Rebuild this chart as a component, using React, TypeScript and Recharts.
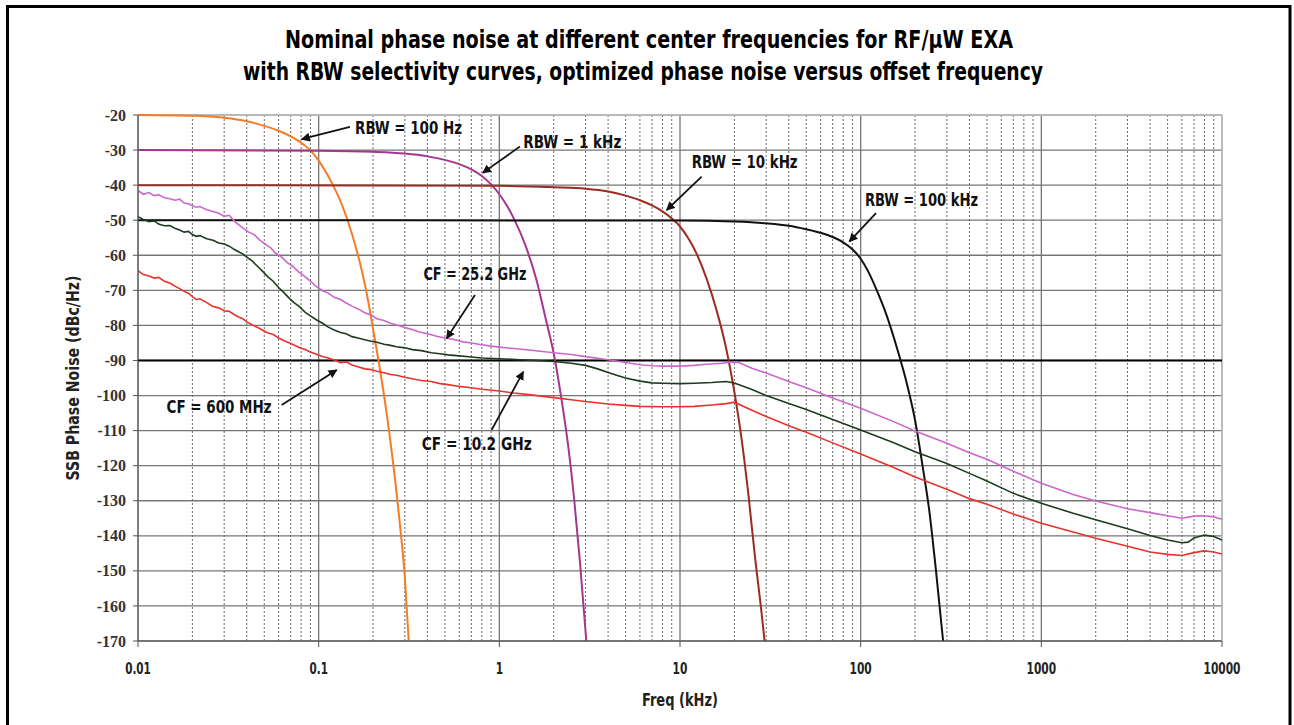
import { CartesianGrid, Line, LineChart, ReferenceLine, XAxis, YAxis } from "recharts";

const W = 1294;
const H = 725;
const PLOT = { left: 138, right: 1222, top: 115, bottom: 641 };
const YAXIS_W = 60;
const XAXIS_H = 30;

const NARROW = "'Liberation Sans Narrow', 'Arial Narrow', 'DejaVu Sans Condensed', sans-serif";
const SERIF = "'Liberation Serif', 'DejaVu Serif', serif";

const X_TICKS = [0.01, 0.1, 1, 10, 100, 1000, 10000];
const Y_TICKS = [-20, -30, -40, -50, -60, -70, -80, -90, -100, -110, -120, -130, -140, -150, -160, -170];
const MINOR_MULTS = [2, 3, 4, 5, 6, 7, 8, 9];

// RBW selectivity curves [freq kHz, dBc/Hz]
const rbw100Hz: [number, number][] = [
  [0.01, -20], [0.02, -20.2], [0.03, -20.8], [0.04, -21.8], [0.05, -23.1], [0.06, -24.5],
  [0.07, -26.1], [0.08, -27.9], [0.09, -30.1], [0.1, -33.0], [0.11, -36.4], [0.12, -40.0],
  [0.13, -43.8], [0.14, -48.0], [0.15, -52.6], [0.16, -57.4], [0.17, -62.6], [0.18, -68.2],
  [0.19, -74.4], [0.2, -81], [0.22, -93.5], [0.24, -106.5], [0.26, -120.5], [0.28, -135.5],
  [0.3, -152], [0.315, -170],
];
const rbw1kHz: [number, number][] = [
  [0.01, -30], [0.1, -30.2], [0.2, -30.5], [0.3, -31], [0.4, -31.8], [0.5, -32.8],
  [0.6, -34], [0.7, -35.5], [0.8, -37.4], [0.9, -39.8], [1, -42.6], [1.1, -45.8], [1.2, -49.4],
  [1.4, -57.4], [1.6, -66.8], [1.8, -77.8], [2, -88], [2.2, -100.5], [2.4, -114],
  [2.6, -130], [2.8, -148], [3.03, -170],
];
const rbw10kHz: [number, number][] = [
  [0.01, -40], [1, -40.2], [2, -40.6], [3, -41], [4, -41.8], [5, -43], [6, -44.3],
  [7, -45.8], [8, -47.5], [9, -49.5], [10, -51.8], [11, -54.8], [12, -58.2], [14, -66.5],
  [16, -76], [18, -86.5], [20, -99], [22, -113], [24, -129], [26, -146], [28, -160], [29.4, -170],
];
const rbw100kHz: [number, number][] = [
  [0.01, -50], [10, -50.1], [20, -50.4], [30, -50.9], [40, -51.6], [50, -52.6], [60, -53.6],
  [70, -54.8], [80, -56.3], [90, -58.3], [100, -61], [110, -64.6], [120, -68.8], [140, -77.5],
  [160, -87], [180, -96.5], [200, -107], [220, -120], [240, -133], [260, -149], [286, -170],
];

// measured phase noise traces
const cf25GHz: [number, number][] = [
  [0.01, -41.5], [0.0107, -42.6], [0.0115, -42.1], [0.0123, -43.0], [0.013, -42.7], [0.014, -43.6],
  [0.015, -43.9], [0.016, -44.3], [0.017, -44.0], [0.018, -45.1], [0.019, -45.3], [0.02, -45.9],
  [0.021, -46.3], [0.022, -46.1], [0.024, -47.0], [0.026, -47.5], [0.028, -48.0], [0.03, -48.9],
  [0.032, -48.6], [0.033, -49.4], [0.035, -50.8], [0.038, -52.2], [0.041, -53.4], [0.044, -54.1],
  [0.047, -55.6], [0.05, -56.6], [0.054, -57.8], [0.058, -59.5], [0.062, -60.4], [0.067, -62.1],
  [0.072, -63.2], [0.078, -64.9], [0.084, -66.1], [0.09, -67.4], [0.097, -68.9], [0.105, -70.1],
  [0.113, -70.8], [0.122, -72.0], [0.132, -72.6], [0.142, -73.6], [0.153, -74.5], [0.165, -75.3],
  [0.18, -76.4], [0.195, -77.0], [0.21, -78.1], [0.23, -78.6], [0.25, -79.4], [0.27, -79.9],
  [0.3, -80.6], [0.33, -81.2], [0.36, -81.9], [0.4, -82.4], [0.45, -83.1], [0.5, -83.6],
  [0.56, -84.0], [0.63, -84.7], [0.7, -85.0], [0.8, -85.5], [0.9, -85.9], [1, -86.2],
  [1.2, -86.6], [1.5, -87.1], [2, -87.8], [2.5, -88.3], [3, -88.9], [4, -89.8], [5, -90.6],
  [6, -91.2], [7, -91.5], [8, -91.6], [10, -91.6], [12, -91.4], [14, -91.1], [17, -90.8],
  [20, -90.4], [21, -90.5], [25, -92.2], [30, -93.6], [40, -96.0], [50, -97.8], [70, -100.7],
  [100, -103.6], [150, -107.3], [200, -110.1], [300, -113.6], [400, -116.3], [500, -118.2],
  [700, -121.6], [1000, -125.0], [1500, -128.2], [2000, -130.1], [3000, -132.3], [4000, -133.4],
  [5000, -134.3], [6000, -135.0], [7000, -134.4], [8000, -134.3], [9000, -134.6], [10000, -135.3],
];
const cf10GHz: [number, number][] = [
  [0.01, -49.0], [0.0107, -49.8], [0.0115, -50.4], [0.0123, -50.2], [0.013, -51.1], [0.014, -51.6],
  [0.015, -51.5], [0.016, -52.3], [0.017, -52.8], [0.018, -53.4], [0.019, -53.2], [0.02, -54.1],
  [0.021, -54.6], [0.022, -54.4], [0.024, -55.3], [0.026, -55.7], [0.028, -56.5], [0.03, -56.8],
  [0.032, -57.4], [0.034, -58.3], [0.036, -59.0], [0.038, -59.6], [0.04, -60.5], [0.043, -61.7],
  [0.046, -63.2], [0.049, -64.6], [0.052, -66.0], [0.056, -67.4], [0.06, -69.2], [0.064, -70.6],
  [0.068, -72.0], [0.073, -73.5], [0.078, -74.6], [0.084, -76.2], [0.09, -77.3], [0.097, -78.4],
  [0.105, -79.4], [0.113, -80.5], [0.122, -81.3], [0.132, -82.0], [0.142, -82.4], [0.153, -83.2],
  [0.165, -83.6], [0.18, -84.1], [0.195, -84.5], [0.21, -84.8], [0.23, -85.4], [0.25, -85.7],
  [0.27, -86.1], [0.3, -86.4], [0.33, -86.9], [0.37, -87.2], [0.42, -87.8], [0.47, -88.1],
  [0.52, -88.4], [0.6, -88.7], [0.7, -89.0], [0.8, -89.3], [1, -89.5], [1.3, -89.8], [1.6, -90.0],
  [2, -90.3], [2.5, -90.8], [3, -91.4], [3.5, -92.4], [4, -93.4], [4.5, -94.3], [5, -95.0],
  [6, -95.9], [7, -96.4], [8, -96.5], [10, -96.6], [12, -96.5], [15, -96.3], [18, -96.0],
  [20, -96.4], [25, -98.3], [30, -100.0], [40, -102.3], [50, -104.0], [70, -106.8], [100, -109.8],
  [150, -113.3], [200, -116.0], [300, -119.4], [400, -122.2], [500, -124.4], [700, -127.9],
  [1000, -130.7], [1500, -133.6], [2000, -135.4], [3000, -138.0], [4000, -139.9], [5000, -141.2],
  [6000, -142.0], [6500, -141.8], [7000, -140.6], [8000, -139.8], [9000, -140.2], [10000, -141.2],
];
const cf600MHz: [number, number][] = [
  [0.01, -64.4], [0.0107, -65.5], [0.0115, -65.9], [0.0123, -66.5], [0.013, -66.3], [0.014, -67.4],
  [0.015, -67.9], [0.016, -68.8], [0.017, -69.5], [0.018, -70.3], [0.019, -70.8], [0.02, -71.8],
  [0.021, -72.6], [0.022, -72.4], [0.024, -73.5], [0.026, -74.6], [0.028, -75.0], [0.03, -75.8],
  [0.032, -76.0], [0.034, -76.9], [0.036, -77.6], [0.038, -78.1], [0.04, -79.0], [0.043, -79.9],
  [0.046, -80.6], [0.049, -81.4], [0.052, -82.1], [0.056, -82.6], [0.06, -83.6], [0.064, -84.3],
  [0.068, -84.9], [0.073, -85.6], [0.078, -86.3], [0.084, -86.9], [0.09, -87.6], [0.097, -88.2],
  [0.105, -88.9], [0.113, -89.3], [0.122, -89.9], [0.132, -90.6], [0.142, -90.4], [0.153, -91.3],
  [0.165, -91.8], [0.18, -92.4], [0.195, -92.6], [0.21, -93.1], [0.23, -93.5], [0.25, -94.0],
  [0.27, -94.2], [0.3, -94.8], [0.33, -95.2], [0.37, -95.7], [0.42, -96.0], [0.47, -96.6],
  [0.52, -96.9], [0.6, -97.4], [0.7, -97.8], [0.8, -98.2], [1, -98.7], [1.2, -99.3], [1.5, -99.8],
  [2, -100.6], [2.5, -101.2], [3, -101.7], [4, -102.4], [5, -102.8], [6, -103.1], [8, -103.2],
  [10, -103.2], [12, -103.1], [15, -102.7], [18, -102.3], [20, -101.9], [25, -104.2], [30, -106.0],
  [40, -108.6], [50, -110.5], [70, -113.5], [100, -116.7], [150, -120.4], [200, -123.2],
  [300, -126.7], [400, -129.4], [500, -131.0], [700, -133.8], [1000, -136.4], [1500, -138.9],
  [2000, -140.7], [3000, -143.0], [4000, -144.6], [5000, -145.3], [6000, -145.6], [7000, -144.8],
  [8000, -144.3], [9000, -144.6], [10000, -145.2],
];

// annotation labels: text anchor (f, dB), arrow from -> to (f, dB)
const LABELS = [
  { text: "RBW = 100 Hz", at: [0.159, -23.6], from: [0.149, -23.4], to: [0.0805, -26.9] },
  { text: "RBW = 1 kHz", at: [1.357, -27.6], from: [1.3, -29.0], to: [0.809, -36.5] },
  { text: "RBW = 10 kHz", at: [11.6, -33.3], from: [13.18, -37.6], to: [8.43, -47.1] },
  { text: "RBW = 100 kHz", at: [105.7, -44.2], from: [121.6, -48.0], to: [86.5, -56.1] },
  { text: "CF = 25.2 GHz", at: [0.38, -65.1], from: [0.733, -71.3], to: [0.511, -83.7] },
  { text: "CF = 10.2 GHz", at: [0.372, -113.6], from: [0.907, -109.8], to: [1.357, -93.2] },
  { text: "CF = 600 MHz", at: [0.0144, -103.0], from: [0.0624, -102.7], to: [0.1259, -92.7] },
];
// rendered text widths in px (condensed face)
const LABEL_W: Record<string, number> = {
  "RBW = 100 Hz": 107,
  "RBW = 1 kHz": 98,
  "RBW = 10 kHz": 106,
  "RBW = 100 kHz": 113,
  "CF = 25.2 GHz": 103,
  "CF = 10.2 GHz": 110,
  "CF = 600 MHz": 105,
};

const toPts = (arr: [number, number][]) => arr.map(([f, v]) => ({ f, v }));

const SERIES = [
  { key: "rbw100", data: rbw100Hz, color: "#f47c26", width: 2, type: "monotone" },
  { key: "rbw1k", data: rbw1kHz, color: "#a5368e", width: 2, type: "monotone" },
  { key: "rbw10k", data: rbw10kHz, color: "#9c2b22", width: 2, type: "monotone" },
  { key: "rbw100k", data: rbw100kHz, color: "#111111", width: 2, type: "monotone" },
  { key: "cf25", data: cf25GHz, color: "#cc66cc", width: 1.6, type: "linear" },
  { key: "cf10", data: cf10GHz, color: "#1d3b1d", width: 1.6, type: "linear" },
  { key: "cf600", data: cf600MHz, color: "#e8322b", width: 1.6, type: "linear" },
] as const;

const fx = (f: number) =>
  PLOT.left + ((PLOT.right - PLOT.left) * (Math.log10(f) + 2)) / 6;
const fy = (v: number) => PLOT.top + ((PLOT.bottom - PLOT.top) * (-20 - v)) / 150;

function XTick({ x, y, payload }: any) {
  const s = String(payload.value);
  const len = s.replace(".", "").length * 7.4 + (s.includes(".") ? 3.5 : 0);
  return (
    <text
      x={x}
      y={y + 15}
      textAnchor="middle"
      fontFamily={NARROW}
      fontWeight={700}
      fontSize={15}
      fill="#222"
      textLength={len}
      lengthAdjust="spacingAndGlyphs"
    >
      {s}
    </text>
  );
}

function YTick({ x, y, payload }: any) {
  return (
    <text x={x} y={y} dy="0.35em" textAnchor="end" fontFamily={SERIF} fontWeight={700} fontSize={16} fill="#333">
      {payload.value}
    </text>
  );
}

export default function App() {
  const minor = X_TICKS.slice(0, -1).flatMap((d) => MINOR_MULTS.map((m) => d * m));

  return (
    <div style={{ position: "absolute", left: 0, top: 0, width: W, height: H, background: "#fff" }}>
      <LineChart
        width={W}
        height={H}
        margin={{ top: PLOT.top, right: W - PLOT.right, bottom: H - PLOT.bottom - XAXIS_H, left: PLOT.left - YAXIS_W }}
      >
        <CartesianGrid stroke="#767676" strokeWidth={1.3} />
        {minor.map((m) => (
          <ReferenceLine key={m} x={m} stroke="#6a6a6a" strokeWidth={1} strokeDasharray="2 2" />
        ))}
        <ReferenceLine y={-20} stroke="#c4c4c4" strokeWidth={1.5} />
        <ReferenceLine x={10000} stroke="#c4c4c4" strokeWidth={1.5} />
        <ReferenceLine y={-90} stroke="#000" strokeWidth={2} />
        <XAxis
          dataKey="f"
          type="number"
          scale="log"
          domain={[0.01, 10000]}
          ticks={X_TICKS}
          allowDataOverflow
          height={XAXIS_H}
          tickSize={6}
          tickMargin={12}
          stroke="#555"
          tick={<XTick />}
        />
        <YAxis
          type="number"
          domain={[-170, -20]}
          ticks={Y_TICKS}
          width={YAXIS_W}
          tickSize={5}
          tickMargin={7}
          stroke="#555"
          tick={<YTick />}
        />
        {SERIES.map((s) => (
          <Line
            key={s.key}
            data={toPts(s.data as [number, number][])}
            dataKey="v"
            type={s.type}
            stroke={s.color}
            strokeWidth={s.width}
            dot={false}
            activeDot={false}
            isAnimationActive={false}
          />
        ))}
      </LineChart>

      <svg width={W} height={H} style={{ position: "absolute", left: 0, top: 0, pointerEvents: "none" }}>
        <defs>
          <marker id="arr" viewBox="0 0 10 10" refX="9" refY="5" markerWidth="5" markerHeight="5" orient="auto">
            <path d="M0,0 L10,5 L0,10 z" fill="#111" />
          </marker>
        </defs>
        <path d={`M7.5 ${H + 5} V6.5 H1290 V${H + 5}`} fill="none" stroke="#000" strokeWidth={3} />
        <text
          x={649}
          y={48}
          textAnchor="middle"
          fontFamily={NARROW}
          fontWeight={700}
          fontSize={25}
          fill="#000"
          textLength={728}
          lengthAdjust="spacingAndGlyphs"
        >
          Nominal phase noise at different center frequencies for RF/µW EXA
        </text>
        <text
          x={643}
          y={80}
          textAnchor="middle"
          fontFamily={NARROW}
          fontWeight={700}
          fontSize={25}
          fill="#000"
          textLength={800}
          lengthAdjust="spacingAndGlyphs"
        >
          with RBW selectivity curves, optimized phase noise versus offset frequency
        </text>
        <text
          transform={`translate(79 ${(PLOT.top + PLOT.bottom) / 2}) rotate(-90)`}
          textAnchor="middle"
          fontFamily={NARROW}
          fontWeight={700}
          fontSize={18}
          fill="#222"
          textLength={205}
          lengthAdjust="spacingAndGlyphs"
        >
          SSB Phase Noise (dBc/Hz)
        </text>
        <text
          x={(PLOT.left + PLOT.right) / 2}
          y={706}
          textAnchor="middle"
          fontFamily={NARROW}
          fontWeight={700}
          fontSize={17}
          fill="#222"
          textLength={76}
          lengthAdjust="spacingAndGlyphs"
        >
          Freq (kHz)
        </text>
        {LABELS.map((l) => (
          <g key={l.text}>
            <line
              x1={fx(l.from[0])}
              y1={fy(l.from[1])}
              x2={fx(l.to[0])}
              y2={fy(l.to[1])}
              stroke="#111"
              strokeWidth={1.8}
              markerEnd="url(#arr)"
            />
            <text
              x={fx(l.at[0])}
              y={fy(l.at[1])}
              dy="0.36em"
              fontFamily={NARROW}
              fontWeight={700}
              fontSize={18}
              fill="#111"
              textLength={LABEL_W[l.text]}
              lengthAdjust="spacingAndGlyphs"
            >
              {l.text}
            </text>
          </g>
        ))}
      </svg>
    </div>
  );
}
